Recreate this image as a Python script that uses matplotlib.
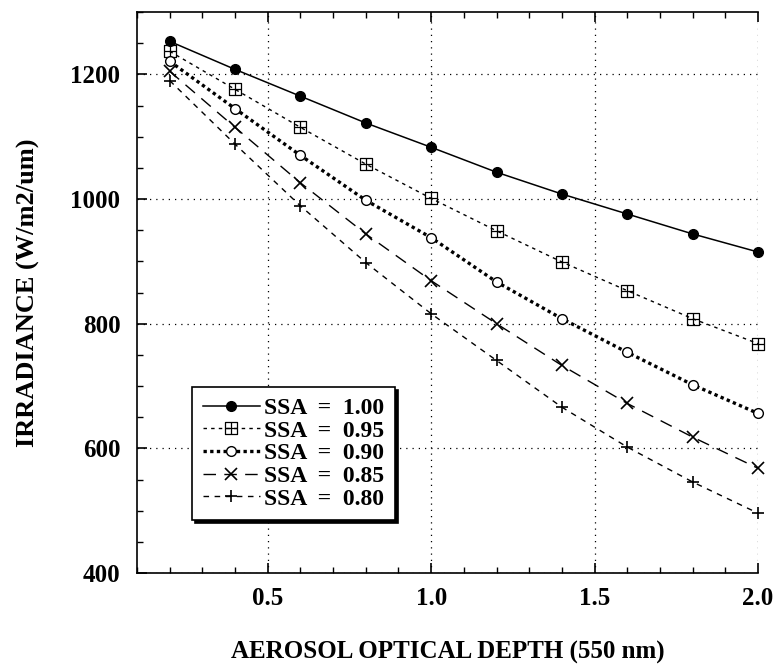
import matplotlib
matplotlib.use("Agg")
import matplotlib.pyplot as plt
from matplotlib.ticker import MultipleLocator
from matplotlib.path import Path

aod = [0.2, 0.4, 0.6, 0.8, 1.0, 1.2, 1.4, 1.6, 1.8, 2.0]
ssa_100 = [1253, 1208, 1165, 1122, 1083, 1043, 1008, 976, 944, 915]
ssa_095 = [1237, 1176, 1115, 1056, 1001, 949, 899, 853, 808, 768]
ssa_090 = [1221, 1145, 1070, 998, 938, 867, 808, 754, 702, 656]
ssa_085 = [1205, 1115, 1026, 944, 869, 800, 733, 672, 618, 568]
ssa_080 = [1190, 1088, 989, 898, 816, 741, 666, 602, 546, 496]
labels = ["SSA  =  1.00", "SSA  =  0.95", "SSA  =  0.90", "SSA  =  0.85", "SSA  =  0.80"]

plt.rcParams["font.family"] = ["Liberation Serif", "DejaVu Serif"]
plt.rcParams["font.weight"] = "bold"

# open square with a cross inside
box_cross = Path(
    [(-1, -1), (1, -1), (1, 1), (-1, 1), (-1, -1), (0, -1), (0, 1), (-1, 0), (1, 0)],
    [Path.MOVETO, Path.LINETO, Path.LINETO, Path.LINETO, Path.CLOSEPOLY,
     Path.MOVETO, Path.LINETO, Path.MOVETO, Path.LINETO],
)

fig = plt.figure(figsize=(7.81, 6.69), dpi=100)
ax = fig.add_axes([0.1754, 0.1435, 0.7952, 0.8385])

ax.plot(aod, ssa_100, color="k", lw=1.1, ls="-", marker="o", ms=7,
        label=labels[0], clip_on=False)
ax.plot(aod, ssa_095, color="k", lw=1.0, ls=(0, (2.5, 3)), marker=box_cross, ms=8,
        mfc="none", mew=0.9, label=labels[1], clip_on=False)
ax.plot(aod, ssa_090, color="k", lw=2.4, ls=(0, (1, 1)), marker="o", ms=7,
        mfc="white", mew=1.0, label=labels[2], clip_on=False)
ax.plot(aod, ssa_085, color="k", lw=1.0, ls=(0, (9, 6)), marker="x", ms=8,
        mew=1.2, label=labels[3], clip_on=False)
ax.plot(aod, ssa_080, color="k", lw=1.0, ls=(0, (4, 4)), marker="+", ms=8,
        mew=1.2, label=labels[4], clip_on=False)

ax.set_xlim(0.1, 2.0)
ax.set_ylim(400, 1300)
ax.xaxis.set_major_locator(MultipleLocator(0.5))
ax.xaxis.set_minor_locator(MultipleLocator(0.1))
ax.yaxis.set_minor_locator(MultipleLocator(50))
ax.set_yticks([400, 600, 800, 1000, 1200])
ax.tick_params(which="both", direction="in", top=True, right=False, labelsize=18)
ax.tick_params(which="major", length=7, width=1.2)
ax.tick_params(which="minor", length=4, width=1.0)
ax.tick_params(axis="x", pad=10)
ax.tick_params(axis="y", pad=12)
ax.spines["right"].set_visible(False)
for s in ["left", "bottom", "top"]:
    ax.spines[s].set_linewidth(1.2)

ax.grid(True, which="major", color="k", ls=(0, (1, 4)), lw=0.9)

ax.set_xlabel("AEROSOL OPTICAL DEPTH (550 nm)", fontsize=18, fontweight="bold", labelpad=22)
ax.set_ylabel("IRRADIANCE (W/m2/um)", fontsize=19, fontweight="bold", labelpad=22)

leg = ax.legend(loc="upper left", bbox_to_anchor=(0.089, 0.332), borderaxespad=0,
                fontsize=17, frameon=True, fancybox=False, edgecolor="k",
                shadow={"color": "k", "alpha": 1}, handlelength=2.4,
                handletextpad=0.2, labelspacing=0.05, borderpad=0.45)
leg.get_frame().set_linewidth(1.2)
leg.get_frame().set_alpha(1)

plt.savefig("out.png", dpi=100)
